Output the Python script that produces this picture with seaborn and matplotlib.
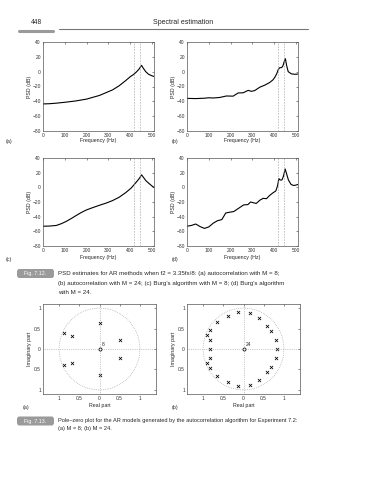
"""Book page: AR PSD estimates (Fig. 7.12) and pole-zero plots (Fig. 7.13)."""

import matplotlib

matplotlib.use("Agg")
import matplotlib.pyplot as plt
import pandas as pd
import seaborn as sns
from matplotlib.lines import Line2D
from matplotlib.patches import Circle, FancyBboxPatch

# ---- data -------------------------------------------------------------
freq_a = [0, 30, 60, 100, 150, 200, 260, 320, 350, 380, 400, 415, 427, 440,
          448, 453, 460, 472, 485, 500, 510]
psd_a = [-43.5, -43.2, -42.5, -41.3, -39.5, -37, -32, -24.5, -19, -12, -7,
         -4, -1, 3, 6.5, 8.5, 5, 0, -3.5, -5.5, -6.5]

freq_b = [0, 40, 80, 100, 120, 150, 181, 212, 235, 258, 281, 296, 311, 334,
          357, 380, 395, 403, 412, 419, 426, 435, 441, 446, 452, 458, 465,
          480, 495, 510]
psd_b = [-36, -36.3, -35.8, -35.2, -35.5, -34.8, -32.8, -33, -28.7, -28.5,
         -25.2, -26.5, -25.5, -21, -18.2, -14.6, -11, -7.8, -3, 2.6, 5.3, 5.5,
         8, 13, 17.5, 8, 0, -3, -3.5, -3.3]

freq_c = [0, 30, 61, 85, 107, 130, 152, 175, 198, 230, 259, 290, 320, 350,
          381, 405, 427, 442, 453, 463, 473, 488, 500, 510]
psd_c = [-53, -52.8, -52, -49.5, -46.4, -42.5, -38.5, -34.5, -31, -27.5,
         -24.5, -21.5, -18, -13.5, -7, -1, 6.5, 12, 17, 13, 9, 5, 2, 0]

freq_d = [0, 20, 40, 60, 80, 100, 120, 140, 160, 178, 195, 215, 240, 260,
          280, 292, 305, 318, 335, 350, 365, 380, 395, 408, 416, 422, 428,
          436, 443, 451, 458, 466, 478, 490, 500, 510]
psd_d = [-53, -52, -50, -53.5, -56, -54, -49, -45.5, -44, -35, -34, -33, -28,
         -24, -23.5, -20, -21, -22, -17.5, -15, -15.5, -11, -7.5, -5, 2, 12,
         10, 10, 15, 25, 18, 10, 4, 2.5, 3, 4]

sine_freqs = [418.75, 443.75]
freq_ticks = [0, 100, 200, 300, 400, 500]
psd_ticks = [-80, -60, -40, -20, 0, 20, 40]

poles8_re = [0.0, -0.89, -0.69, 0.5, 0.5, -0.69, -0.89, 0.0]
poles8_im = [0.63, 0.39, 0.33, 0.21, -0.21, -0.33, -0.39, -0.63]

poles24_re = [-0.13, 0.15, -0.39, 0.39, -0.66, 0.57, 0.68, -0.83, -0.91,
              0.80, -0.84, 0.83, -0.84,
              -0.13, 0.15, -0.39, 0.39, -0.66, 0.57, 0.68, -0.83, -0.91,
              0.80, -0.84]
poles24_im = [0.90, 0.87, 0.81, 0.76, 0.65, 0.56, 0.44, 0.46, 0.35, 0.23,
              0.21, 0.0, 0.0,
              -0.90, -0.87, -0.81, -0.76, -0.65, -0.56, -0.44, -0.46, -0.35,
              -0.23, -0.21]

pz_ticks = [-1, -0.5, 0, 0.5, 1]
pz_ticklabels = ["1", "0.5", "0", "0.5", "1"]

# ---- layout helpers (page pixels) ---------------------------------------
W, H = 365, 480
sns.set_style("white")
plt.rcParams["font.family"] = ["Liberation Sans", "DejaVu Sans"]

fig = plt.figure(figsize=(W / 100, H / 100), dpi=100)

TICK_FS = 3.5
LABEL_FS = 3.8
CAP_FS = 4.4


def fx(px):
    return px / W


def fy(py):
    return 1 - py / H


def add_box(left, top, right, bottom):
    return fig.add_axes([fx(left), fy(bottom), (right - left) / W, (bottom - top) / H])


def frame(ax):
    ax.tick_params(direction="in", length=1.5, width=0.4, labelsize=TICK_FS, pad=1.5,
                   top=True, right=True, colors="#333")
    for s in ax.spines.values():
        s.set_linewidth(0.5)
        s.set_color("#555")


def psd_panel(ax, freq, psd):
    df = pd.DataFrame({"freq": freq, "psd": psd})
    sns.lineplot(data=df, x="freq", y="psd", ax=ax, color="black", lw=0.8)
    for f in sine_freqs:
        ax.axvline(f, ls=(0, (3, 2)), lw=0.4, color="#999")
    ax.set_xlim(0, 510)
    ax.set_ylim(-80, 40)
    ax.set_xticks(freq_ticks)
    ax.set_yticks(psd_ticks)
    ax.set_xlabel("")
    ax.set_ylabel("")
    frame(ax)


def pz_panel(ax, re, im, order):
    ax.add_patch(Circle((0, 0), 1, fill=False, ls=":", lw=0.5, color="#999"))
    ax.axhline(0, ls=":", lw=0.5, color="#999")
    ax.axvline(0, ls=":", lw=0.5, color="#999")
    sns.scatterplot(x=re, y=im, ax=ax, marker="x", color="black", s=5, linewidth=0.55)
    ax.plot([0], [0], "o", ms=2.2, mfc="white", mec="black", mew=0.55)
    ax.text(0.05, 0.05, str(order), fontsize=TICK_FS, va="bottom", ha="left")
    ax.set_xlim(-1.4, 1.4)
    ax.set_ylim(-1.1, 1.1)
    ax.set_xticks(pz_ticks)
    ax.set_xticklabels(pz_ticklabels)
    ax.set_yticks(pz_ticks)
    ax.set_yticklabels(pz_ticklabels)
    frame(ax)


# ---- Fig 7.12 PSD panels --------------------------------------------------
panels = [
    (add_box(43, 42, 154, 131), freq_a, psd_a, "(a)", 9, 141),
    (add_box(187, 42, 298, 131), freq_b, psd_b, "(b)", 175, 141),
    (add_box(43, 158, 154, 246), freq_c, psd_c, "(c)", 9, 259),
    (add_box(187, 158, 298, 246), freq_d, psd_d, "(d)", 175, 259),
]
for ax, f, p, tag, tx, ty in panels:
    psd_panel(ax, f, p)
    fig.text(fx(tx), fy(ty), tag, fontsize=LABEL_FS, ha="center", va="center")
    pos = ax.get_position()
    fig.text(pos.x0 + pos.width / 2, fy(ty - 1), "Frequency (Hz)", fontsize=LABEL_FS,
             ha="center", va="center")
    fig.text(pos.x0 - fx(13), pos.y0 + pos.height / 2, "PSD (dB)", fontsize=LABEL_FS,
             rotation=90, ha="center", va="center")

# ---- Fig 7.13 pole-zero panels -------------------------------------------
pz_axes = [
    (add_box(43, 304, 156, 394), poles8_re, poles8_im, 8, "(a)", 26),
    (add_box(187, 304, 300, 394), poles24_re, poles24_im, 24, "(b)", 175),
]
for ax, re, im, order, tag, tx in pz_axes:
    pz_panel(ax, re, im, order)
    pos = ax.get_position()
    fig.text(fx(tx), fy(408), tag, fontsize=LABEL_FS, ha="center", va="center")
    fig.text(pos.x0 + pos.width / 2, fy(405), "Real part", fontsize=LABEL_FS,
             ha="center", va="center")
    fig.text(pos.x0 - fx(13), pos.y0 + pos.height / 2, "Imaginary part",
             fontsize=LABEL_FS, rotation=90, ha="center", va="center")

# ---- page furniture -------------------------------------------------------
fig.text(fx(36), fy(23), "448", fontsize=4.8, ha="center", va="center")
fig.text(fx(183), fy(23), "Spectral estimation", fontsize=5, ha="center", va="center")
fig.add_artist(Line2D([fx(19), fx(53)], [fy(31), fy(31)], lw=2.2, color="#9a9a9a",
                      solid_capstyle="round"))
fig.add_artist(Line2D([fx(59), fx(308)], [fy(29), fy(29)], lw=0.8, color="#777"))


def fig_tag(label, ycen):
    fig.add_artist(FancyBboxPatch((fx(17), fy(ycen + 4.5)), fx(37), 9 / H,
                                  boxstyle="round,pad=0,rounding_size=0.006",
                                  transform=fig.transFigure, fc="#9a9a9a", ec="none"))
    fig.text(fx(35.5), fy(ycen), label, fontsize=3.8, color="white",
             ha="center", va="center")


fig_tag("Fig. 7.12.", 273.5)
fig_tag("Fig. 7.13.", 421)

cap12 = [
    "PSD estimates for AR methods when f2 = 3.35fs/8: (a) autocorrelation with M = 8;",
    "(b) autocorrelation with M = 24; (c) Burg\u2019s algorithm with M = 8; (d) Burg\u2019s algorithm",
    "with M = 24.",
]
for i, line in enumerate(cap12):
    fig.text(fx(58), fy(274 + 9.3 * i), line, fontsize=CAP_FS, ha="left", va="center")

cap13 = [
    "Pole\u2013zero plot for the AR models generated by the autocorrelation algorithm for Experiment 7.2:",
    "(a) M = 8; (b) M = 24.",
]
for i, line in enumerate(cap13):
    fig.text(fx(58), fy(420.5 + 8 * i), line, fontsize=4.1, ha="left", va="center")

fig.savefig("out.png", dpi=100)
plt.close(fig)
